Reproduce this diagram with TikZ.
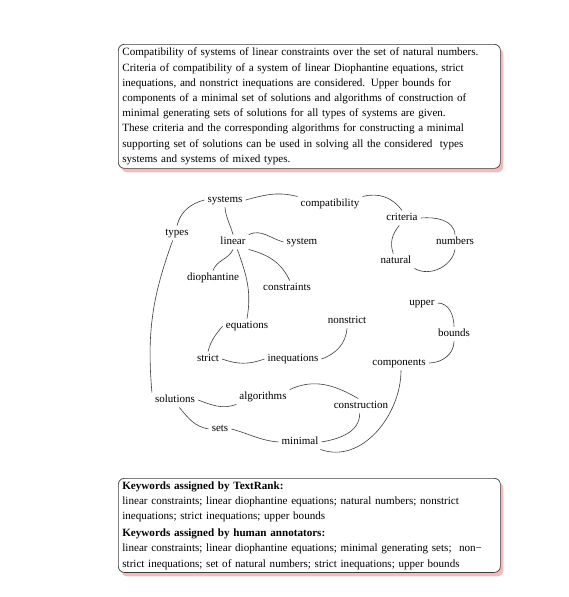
\documentclass[tikz,border=0pt]{standalone}
\usepackage{fontspec}
\setmainfont{Liberation Serif}
\usetikzlibrary{shadows}
\definecolor{shpink}{RGB}{242,170,175}
\definecolor{edgec}{RGB}{60,60,60}
\tikzset{
  kw/.style={font=\fontsize{11}{13}\selectfont, inner xsep=3pt, inner ysep=2pt, text height=8pt, text depth=2.5pt},
  link/.style={draw=edgec, line width=0.6pt},
  panel/.style={draw=edgec, line width=0.7pt, rounded corners=6pt, fill=white, anchor=north west,
    align=left, inner xsep=4pt, inner ysep=3pt,
    drop shadow={fill=shpink, opacity=0.8, shadow xshift=3pt, shadow yshift=-4pt}},
}
\begin{document}
\begin{tikzpicture}[x=1pt,y=-1pt]
\useasboundingbox (0,0) rectangle (568,597);
\fill[white] (0,0) rectangle (568,597);

\node[panel, text width=374pt, minimum height=124pt, font=\fontsize{11.1}{15.2}\selectfont] (abstract) at (118,44)
{Compatibility of systems of linear constraints over the set of natural numbers.\\
Criteria of compatibility of a system of linear Diophantine equations, strict\\
inequations, and nonstrict inequations are considered. Upper bounds for\\
components of a minimal set of solutions and algorithms of construction of\\
minimal generating sets of solutions for all types of systems are given.\\
These criteria and the corresponding algorithms for constructing a minimal\\
supporting set of solutions can be used in solving all the considered\ \ types\\
systems and systems of mixed types.};

\node[panel, text width=374pt, minimum height=94pt, font=\fontsize{11.1}{15.2}\selectfont] (keys) at (118,478)
{\textbf{Keywords assigned by TextRank:}\\
linear constraints; linear diophantine equations; natural numbers; nonstrict\\
inequations; strict inequations; upper bounds\\[2pt]
\textbf{Keywords assigned by human annotators:}\\
linear constraints; linear diophantine equations; minimal generating sets;\ \ non−\\
strict inequations; set of natural numbers; strict inequations; upper bounds};

\node[kw] (systems) at (225,200) {systems};
\node[kw] (compatibility) at (330,204) {compatibility};
\node[kw] (criteria) at (402,218) {criteria};
\node[kw] (types) at (177,233) {types};
\node[kw] (linear) at (233,242) {linear};
\node[kw] (system) at (302,242) {system};
\node[kw] (numbers) at (455,242) {numbers};
\node[kw] (natural) at (396,261) {natural};
\node[kw] (diophantine) at (213,278) {diophantine};
\node[kw] (constraints) at (287,288) {constraints};
\node[kw] (upper) at (422,303) {upper};
\node[kw] (equations) at (247,326) {equations};
\node[kw] (nonstrict) at (347,321) {nonstrict};
\node[kw] (bounds) at (454,334) {bounds};
\node[kw] (strict) at (208,359) {strict};
\node[kw] (inequations) at (293,359) {inequations};
\node[kw] (components) at (399,363) {components};
\node[kw] (solutions) at (175,400) {solutions};
\node[kw] (algorithms) at (263,397) {algorithms};
\node[kw] (construction) at (361,406) {construction};
\node[kw] (sets) at (220,429) {sets};
\node[kw] (minimal) at (300,442) {minimal};

\draw[link] (types.north) to[out=75,in=195] (systems.west);
\draw[link] (systems.east) to[out=15,in=165] (compatibility.north west);
\draw[link] (compatibility.north east) to[out=15,in=125] (criteria.north);
\draw[link] (systems.south) to[out=-85,in=105] (linear.north);
\draw[link] (linear.north east) to[out=25,in=165] (system.west);
\draw[link] (linear.south) to[out=-115,in=70] (diophantine.north);
\draw[link] (linear.south east) to[out=-15,in=115] (constraints.70);
\draw[link] (linear.-60) to[out=-70,in=80] (equations.north);
\draw[link] (criteria.east) to[out=5,in=95] (numbers.north);
\draw[link] (criteria.-110) to[out=-130,in=110] (natural.110);
\draw[link] (natural.south east) to[out=-30,in=-100] (numbers.south);
\draw[link] (upper.east) to[out=0,in=90] (bounds.north);
\draw[link] (bounds.south) to[out=-90,in=0] (components.east);
\draw[link] (equations.west) to[out=-130,in=75] (strict.north);
\draw[link] (strict.east) to[out=-20,in=200] (inequations.west);
\draw[link] (inequations.east) to[out=20,in=-95] (nonstrict.south);
\draw[link] (types.-120) to[out=-110,in=95] (solutions.north west);
\draw[link] (solutions.east) to[out=-20,in=200] (algorithms.south west);
\draw[link] (algorithms.north east) to[out=25,in=150] (construction.110);
\draw[link] (solutions.-60) to[out=-50,in=170] (sets.west);
\draw[link] (sets.east) to[out=-15,in=175] (minimal.west);
\draw[link] (construction.-100) to[out=-90,in=10] (minimal.east);
\draw[link] (minimal.-20) to[out=-20,in=-90] (components.-75);
\end{tikzpicture}
\end{document}
